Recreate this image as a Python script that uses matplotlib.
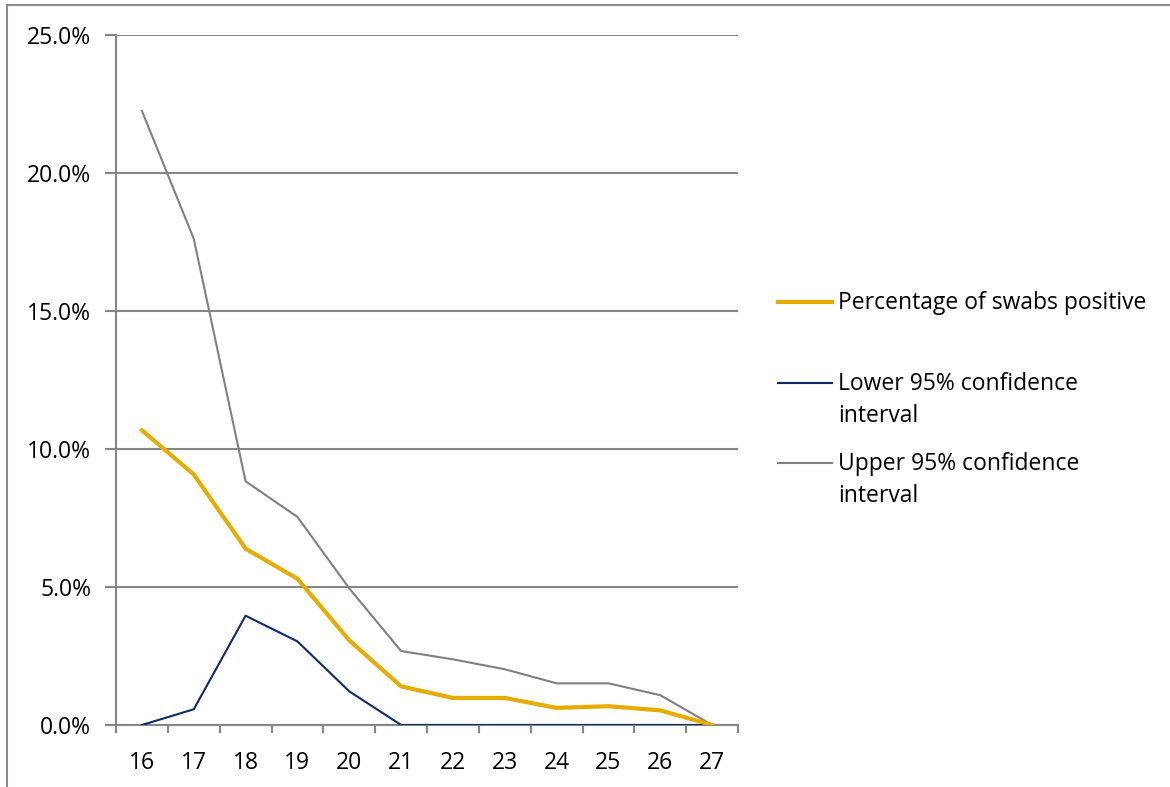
import matplotlib.pyplot as plt
from matplotlib.lines import Line2D
from matplotlib.patches import Rectangle
from matplotlib.ticker import FuncFormatter

weeks = [16, 17, 18, 19, 20, 21, 22, 23, 24, 25, 26, 27]
pct_positive = [10.68, 9.08, 6.39, 5.30, 3.07, 1.40, 0.98, 0.98, 0.62, 0.68, 0.53, 0.0]
lower_ci = [0.0, 0.57, 3.96, 3.03, 1.22, 0.0, 0.0, 0.0, 0.0, 0.0, 0.0, 0.0]
upper_ci = [22.25, 17.62, 8.83, 7.54, 4.95, 2.68, 2.38, 2.02, 1.51, 1.51, 1.08, 0.0]

labels = ["Percentage of swabs positive",
          "Lower 95% confidence\ninterval",
          "Upper 95% confidence\ninterval"]
colors = ["#E6AC00", "#0D2A6B", "#808080"]
widths = [3.0, 1.5, 1.5]

plt.rcParams['font.family'] = ['Open Sans', 'DejaVu Sans']
GRID = "#868686"
FS = 16.5

W, H = 1170, 787
fig = plt.figure(figsize=(W / 100, H / 100), dpi=100)

# outer chart border: only left and top edges fall inside the image
fig.patches.append(Rectangle((7 / W, -0.05), 1.1, 1.05 - 5 / H, transform=fig.transFigure,
                             fill=False, edgecolor="#8c8c8c", lw=1.5, zorder=0))

ax = fig.add_axes([116 / W, 62 / H, 622 / W, 690 / H])

x = list(range(len(weeks)))
# grey first, then navy, then yellow on top
ax.plot(x, upper_ci, color=colors[2], lw=widths[2], zorder=3)
ax.plot(x, lower_ci, color=colors[1], lw=widths[1], zorder=4)
ax.plot(x, pct_positive, color=colors[0], lw=widths[0], zorder=5)

ax.set_xlim(-0.5, len(weeks) - 0.5)
ax.set_ylim(0, 25)
ax.set_yticks([0, 5, 10, 15, 20, 25])
ax.yaxis.set_major_formatter(FuncFormatter(lambda v, p: f"{v:.1f}%"))
ax.grid(axis='y', color=GRID, lw=1.5, zorder=1)

ax.set_xticks([i - 0.5 for i in range(len(weeks) + 1)])
ax.set_xticklabels([])
ax.set_xticks(x, minor=True)
ax.set_xticklabels([str(w) for w in weeks], minor=True)
ax.tick_params(axis='x', which='major', length=6, width=1.5, color=GRID, direction='out')
ax.tick_params(axis='x', which='minor', length=0, pad=19, labelsize=FS)
ax.tick_params(axis='y', length=8, width=1.5, color=GRID, pad=10, labelsize=FS)

for s in ['top', 'right']:
    ax.spines[s].set_visible(False)
for s in ['left', 'bottom']:
    ax.spines[s].set_color(GRID)
    ax.spines[s].set_linewidth(1.5)
ax.set_axisbelow(True)
ax.patch.set_alpha(0)

# legend drawn by hand so handles sit on the first text line
legend_y = [302, 383, 463]
for lab, c, lw, yy in zip(labels, colors, widths, legend_y):
    yf = 1 - yy / H
    fig.add_artist(Line2D([778 / W, 832 / W], [yf, yf], color=c, lw=lw))
    fig.text(838 / W, yf + 11 / H, lab, fontsize=FS, va='top', ha='left',
             linespacing=1.45)

fig.savefig("out.png", dpi=100)
